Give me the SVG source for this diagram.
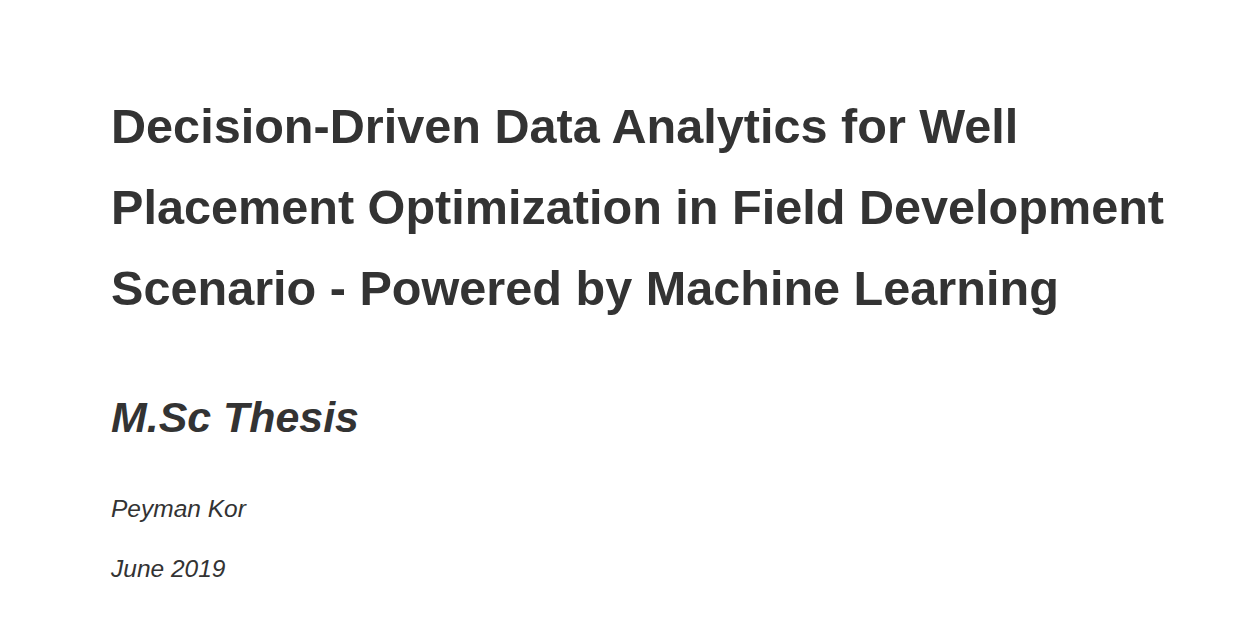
<svg xmlns="http://www.w3.org/2000/svg" width="1255" height="624" viewBox="0 0 1255 624">
<style>
.t{font-family:"Liberation Sans",Arial,sans-serif;font-weight:bold;font-size:48.6px;fill:#333}
.s{font-family:"Liberation Sans",Arial,sans-serif;font-weight:bold;font-style:italic;font-size:42.9px;fill:#333}
.a{font-family:"Liberation Sans",Arial,sans-serif;font-style:italic;font-size:24.5px;fill:#333}
</style>
<rect width="1255" height="624" fill="#fff"/>
<g id="title">
<text class="t" x="111" y="142.5">Decision-Driven Data Analytics for Well</text>
<text class="t" x="111" y="223.5">Placement Optimization in Field Development</text>
<text class="t" x="111" y="304.5">Scenario - Powered by Machine Learning</text>
</g>
<g id="subtitle"><text class="s" x="111" y="432">M.Sc Thesis</text></g>
<g id="author"><text class="a" x="111" y="517">Peyman Kor</text></g>
<g id="date"><text class="a" x="111" y="577">June 2019</text></g>
</svg>
